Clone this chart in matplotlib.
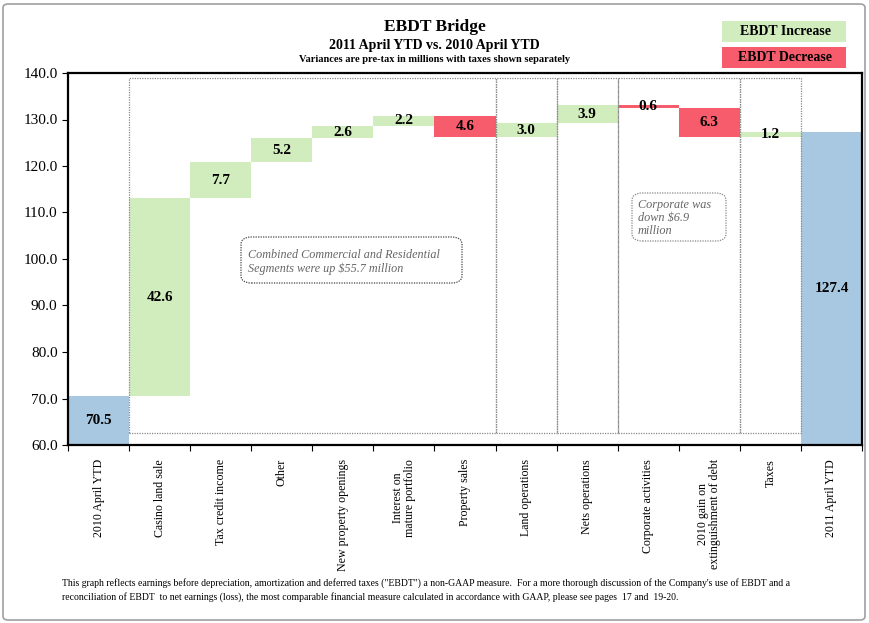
import numpy as np
import matplotlib.pyplot as plt
from matplotlib.patches import FancyBboxPatch, Rectangle

plt.rcParams['font.family'] = ['Liberation Serif', 'DejaVu Serif']

# Дані містка EBDT
categories = ['2010 April YTD', 'Casino land sale', 'Tax credit income', 'Other',
              'New property openings', 'Interest on\nmature portfolio', 'Property sales',
              'Land operations', 'Nets operations', 'Corporate activities',
              '2010 gain on\nextinguishment of debt', 'Taxes', '2011 April YTD']
start_value = 70.5
changes = [42.6, 7.7, 5.2, 2.6, 2.2, -4.6, 3.0, 3.9, -0.6, -6.3, 1.2]
end_value = 127.4

GREEN = '#d1ecbd'
RED = '#f65c6c'
BLUE = '#a8c8e1'

W, H = 869, 623


def fx(px):
    return px / W


def fy(py):
    return 1 - py / H


fig = plt.figure(figsize=(8.69, 6.23), dpi=100)
ax = fig.add_axes([fx(68), fy(445), 794 / W, 372 / H])

n = len(categories)
x = np.arange(n)

# bars
ax.bar(0, start_value - 60, bottom=60, width=1.0, color=BLUE)
ax.text(0, (start_value + 60) / 2, f'{start_value:.1f}', ha='center', va='center',
        fontsize=11, fontweight='bold')

level = start_value
for i, ch in enumerate(changes, start=1):
    lo = min(level, level + ch)
    ax.bar(i, abs(ch), bottom=lo, width=1.0, color=GREEN if ch > 0 else RED)
    ax.text(i, lo + abs(ch) / 2, f'{abs(ch):.1f}', ha='center', va='center',
            fontsize=11, fontweight='bold')
    level += ch

ax.bar(n - 1, end_value - 60, bottom=60, width=1.0, color=BLUE)
ax.text(n - 1, (end_value + 60) / 2, f'{end_value:.1f}', ha='center', va='center',
        fontsize=11, fontweight='bold')

# dotted segment boxes
box_lo, box_hi = 62.6, 138.9
for a, b in [(0.5, 6.5), (6.5, 7.5), (7.5, 8.5), (8.5, 10.5), (10.5, 11.5)]:
    ax.add_patch(Rectangle((a, box_lo), b - a, box_hi - box_lo, fill=False,
                           ec='#8a8a8a', lw=0.9, ls=(0, (1, 1)), zorder=3))

ax.set_xlim(-0.5, n - 0.5)
ax.set_ylim(60, 140)
ax.set_yticks(np.arange(60, 141, 10))
ax.set_yticklabels([f'{v:.1f}' for v in np.arange(60, 141, 10)], fontsize=11)
ax.set_xticks(np.arange(-0.5, n, 1.0))
ax.set_xticklabels([])
ax.set_xticks(x, minor=True)
ax.set_xticklabels(categories, minor=True, rotation=90, fontsize=8.6,
                   va='top', ha='center', linespacing=1.0)
ax.tick_params(axis='x', which='minor', length=0, pad=10)
ax.tick_params(axis='x', which='major', length=4, direction='out')
ax.tick_params(axis='y', length=4, direction='out')
for s in ax.spines.values():
    s.set_linewidth(1.6)

# notes (pixel-placed boxes)
for (x0, y0, x1, y1, ec) in [(241, 237, 462, 283, '#444444'), (632, 193, 726, 241, '#888888')]:
    fig.patches.append(FancyBboxPatch((fx(x0), fy(y1)), fx(x1 - x0), (y1 - y0) / H,
                                      boxstyle='round,pad=0,rounding_size=0.012',
                                      transform=fig.transFigure, fc='white', ec=ec,
                                      lw=0.9, ls=(0, (1, 1)), zorder=5))
fig.text(fx(248), fy(255), 'Combined Commercial and Residential', fontsize=8.7, style='italic',
         color='#666666', ha='left', va='center', zorder=6)
fig.text(fx(248), fy(269), 'Segments were up $55.7 million', fontsize=8.7, style='italic',
         color='#666666', ha='left', va='center', zorder=6)
for py, line in [(205, 'Corporate was'), (218, 'down $6.9'), (231, 'million')]:
    fig.text(fx(638), fy(py), line, fontsize=8.8, style='italic', color='#666666',
             ha='left', va='center', zorder=6)

# titles
fig.text(0.5, fy(27), 'EBDT Bridge', ha='center', va='center', fontsize=12.5, fontweight='bold')
fig.text(0.5, fy(46), '2011 April YTD vs. 2010 April YTD', ha='center', va='center',
         fontsize=10, fontweight='bold')
fig.text(0.5, fy(60), 'Variances are pre-tax in millions with taxes shown separately',
         ha='center', va='center', fontsize=7.5, fontweight='bold')

# legend boxes
for y0, col, lab in [(21, GREEN, 'EBDT Increase'), (47, RED, 'EBDT Decrease')]:
    fig.patches.append(Rectangle((fx(722), fy(y0 + 21)), 124 / W, 21 / H,
                                 transform=fig.transFigure, fc=col, ec='none'))
    fig.text(fx(785), fy(y0 + 10.5), lab, ha='center', va='center',
             fontsize=10, fontweight='bold')

# footer
fig.text(fx(62), fy(583),
         'This graph reflects earnings before depreciation, amortization and deferred taxes ("EBDT") a non-GAAP measure.  '
         "For a more thorough discussion of the Company's use of EBDT and a",
         fontsize=7, ha='left', va='center')
fig.text(fx(62), fy(597),
         'reconciliation of EBDT  to net earnings (loss), the most comparable financial measure calculated in accordance '
         'with GAAP, please see pages  17 and  19-20.',
         fontsize=7, ha='left', va='center')

# outer frame
fig.patches.append(FancyBboxPatch((fx(3), 3 / H), 862 / W, 616 / H,
                                  boxstyle='round,pad=0,rounding_size=0.006',
                                  transform=fig.transFigure, fill=False,
                                  ec='#a0a0a0', lw=1.2))

plt.savefig('out.png', dpi=100)
